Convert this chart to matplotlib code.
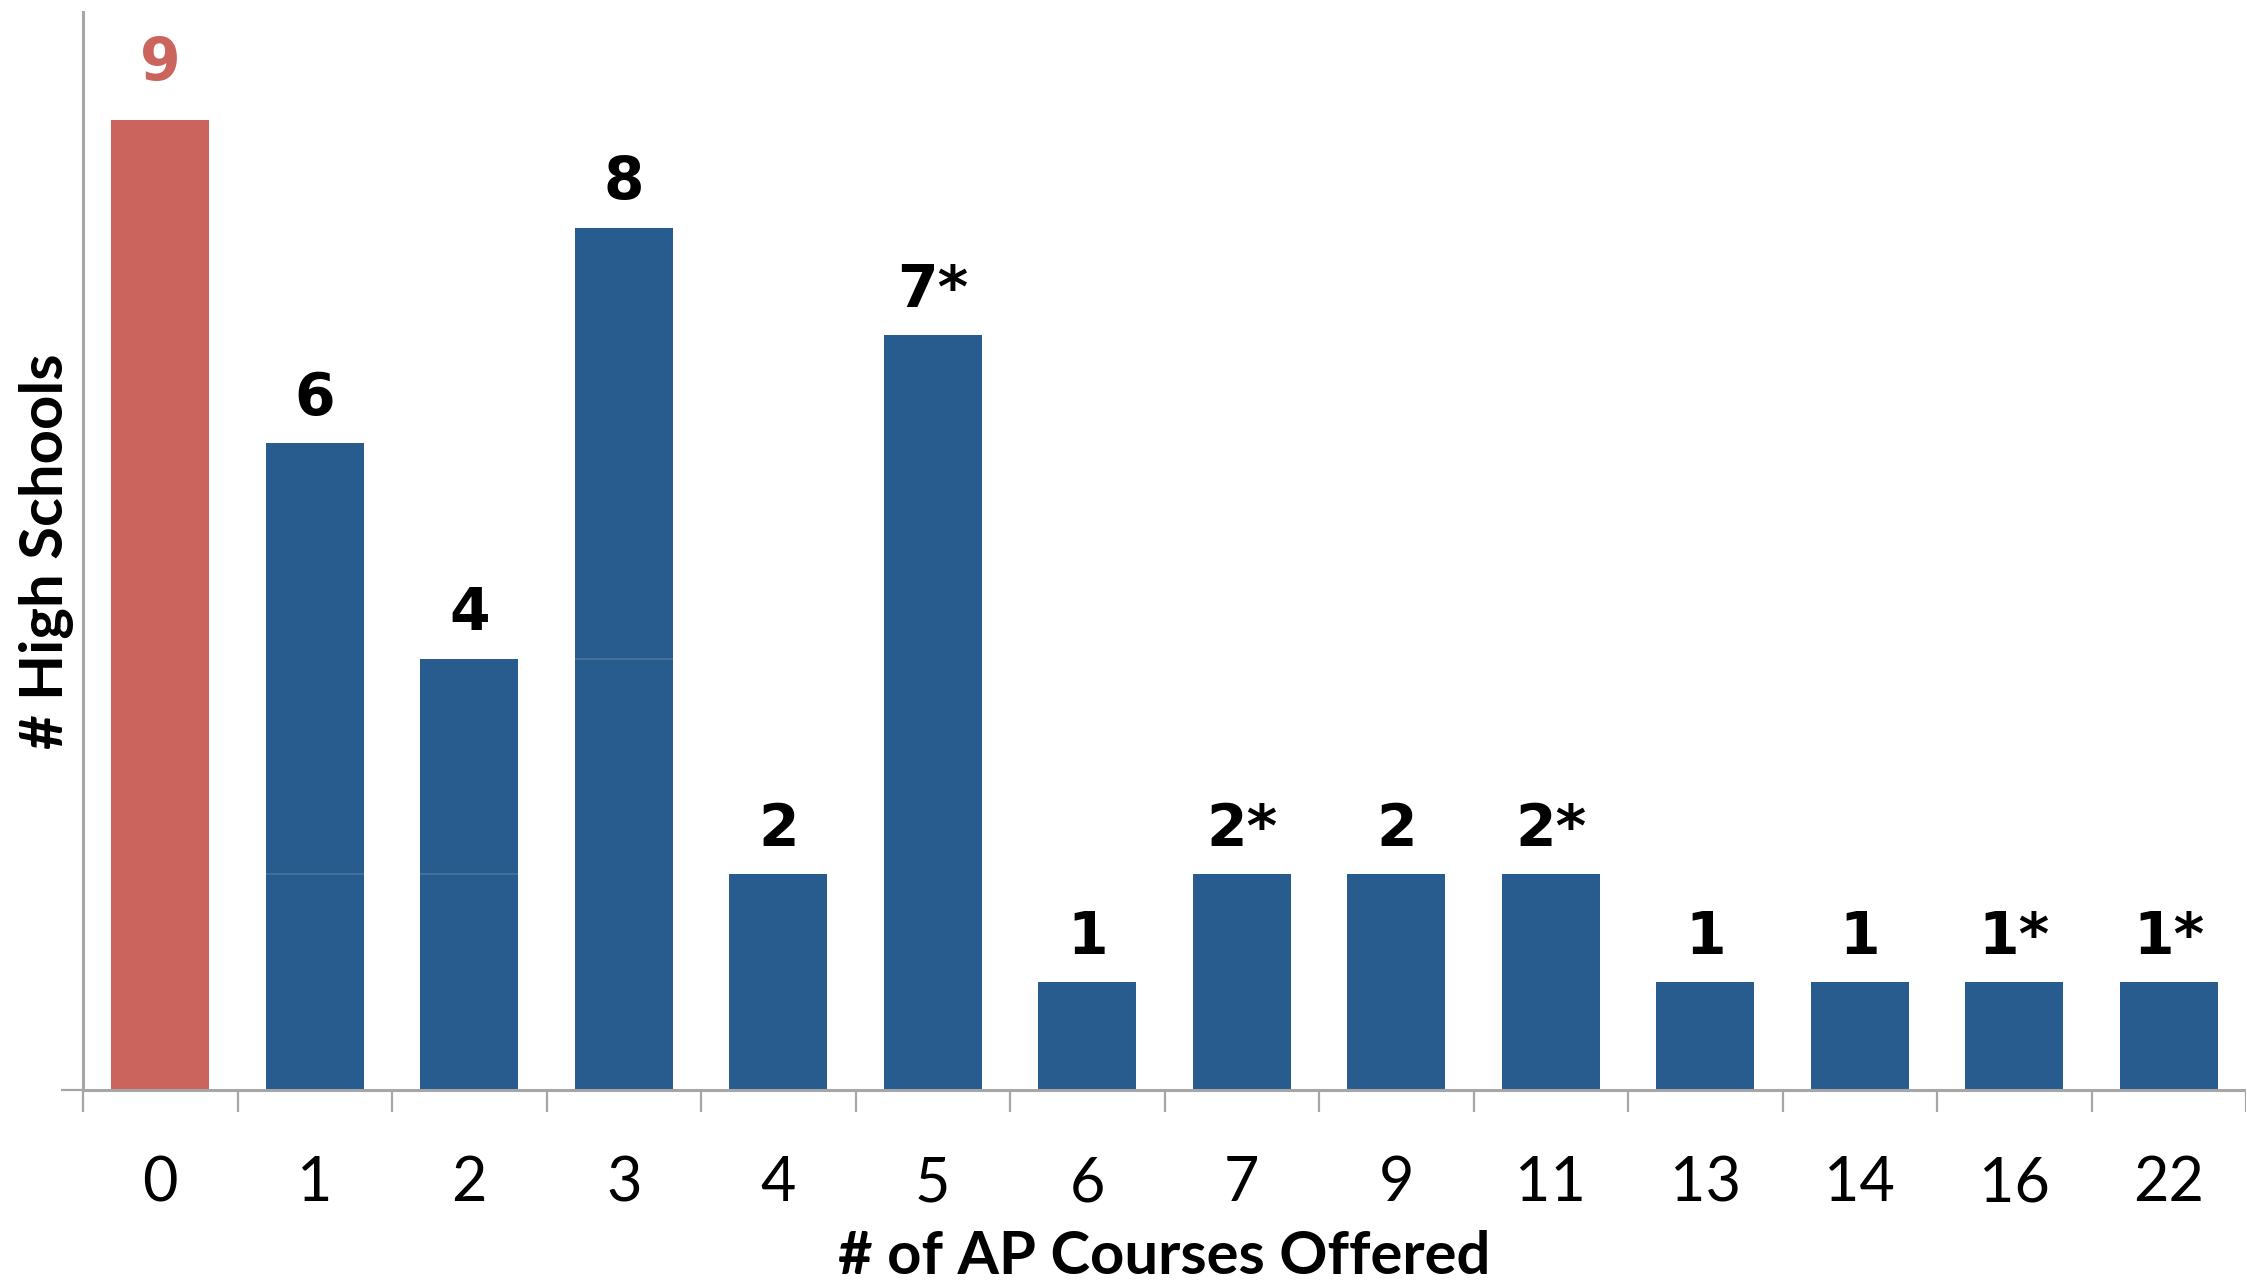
import numpy as np
import matplotlib
matplotlib.use("Agg")
import matplotlib.pyplot as plt

# data
courses = ["0", "1", "2", "3", "4", "5", "6", "7", "9", "11", "13", "14", "16", "22"]
schools = [9, 6, 4, 8, 2, 7, 1, 2, 2, 2, 1, 1, 1, 1]
labels = ["9", "6", "4", "8", "2", "7*", "1", "2*", "2", "2*", "1", "1", "1*", "1*"]
# faint seams visible inside a few bars
seams = [None, 2, 2, 4, None, None, None, None, None, None, None, None, None, None]

RED = "#CB645D"
BLUE = "#285C8E"
GRAY = "#A6A6A6"

fig = plt.figure(figsize=(22.46, 12.83), dpi=100)
ax = fig.add_axes([83 / 2246, 1 - 1090 / 1283, 1 - 83 / 2246, (1090 - 12) / 1283])

x = np.arange(len(courses))
colors = [RED] + [BLUE] * (len(courses) - 1)
bars = ax.bar(x, schools, width=0.635, color=colors, zorder=2)

for xi, s in zip(x, seams):
    if s is not None:
        ax.hlines(s, xi - 0.3175, xi + 0.3175, color="#4A76A0", lw=1.2, zorder=3)

for i, (b, lab) in enumerate(zip(bars, labels)):
    ax.annotate(lab, (b.get_x() + b.get_width() / 2, b.get_height()),
                xytext=(0, 20 if i == 0 else 12), textcoords="offset points",
                ha="center", va="bottom", fontsize=42, fontweight="bold",
                family="DejaVu Sans", color=RED if i == 0 else "black")

ax.set_xlim(-0.5, len(courses) - 0.5)
ax.set_ylim(0, 10)

for side in ["top", "right"]:
    ax.spines[side].set_visible(False)
for side in ["left", "bottom"]:
    ax.spines[side].set_color(GRAY)
    ax.spines[side].set_linewidth(2.2)

ax.set_xticks(x)
ax.set_xticklabels(courses, family="Lato", fontsize=44)
ax.tick_params(axis="x", length=0, pad=47)
ax.set_xticks(np.arange(-0.5, len(courses)), minor=True)
ax.tick_params(axis="x", which="minor", length=16, width=1.6, color=GRAY)

ax.set_yticks([0])
ax.set_yticklabels([""])
ax.tick_params(axis="y", length=16, width=1.6, color=GRAY)

ax.set_xlabel("# of AP Courses Offered", family="Lato", fontsize=43,
              fontweight="bold", labelpad=13)
fig.text(47 / 2246, 1 - 551 / 1283, "# High Schools", rotation=90,
         ha="center", va="center", family="Lato", fontsize=43, fontweight="bold")

fig.savefig("out.png", dpi=100)
